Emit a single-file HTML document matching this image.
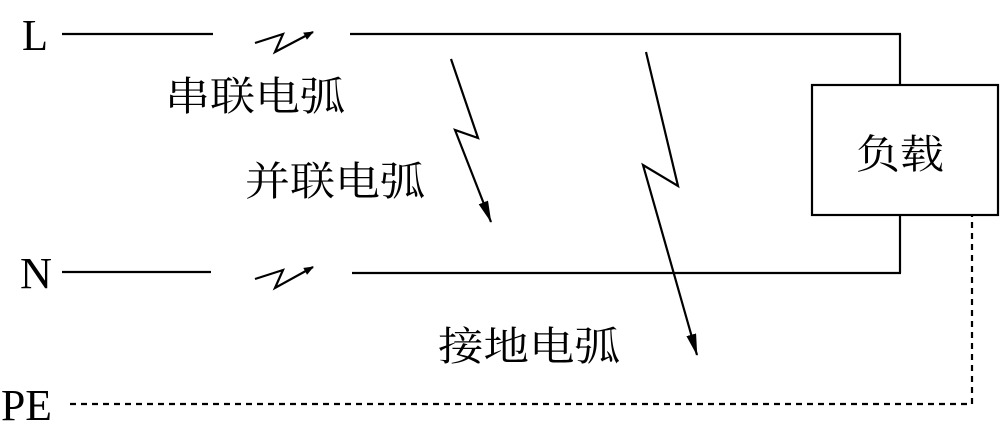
<!DOCTYPE html>
<html><head><meta charset="utf-8"><style>body{margin:0;background:#fff}svg{display:block}</style></head>
<body>
<svg width="1000" height="431" viewBox="0 0 1000 431" xmlns="http://www.w3.org/2000/svg">
<defs><marker id="a" markerWidth="10" markerHeight="8" refX="9" refY="4" orient="auto" markerUnits="userSpaceOnUse" viewBox="0 0 10 8"><path d="M0,0L10,4L0,8z" fill="#000"/></marker>
<marker id="b" markerWidth="22" markerHeight="10" refX="21" refY="5" orient="auto" markerUnits="userSpaceOnUse" viewBox="0 0 22 10"><path d="M0,0L22,5L0,10z" fill="#000"/></marker></defs>
<g stroke="#000" stroke-width="2.2" fill="none">
<line x1="62" y1="34" x2="213" y2="34"/>
<line x1="350" y1="34" x2="901" y2="34"/>
<line x1="900" y1="34" x2="900" y2="85"/>
<rect x="812" y="85" width="186" height="130"/>
<line x1="900" y1="215" x2="900" y2="273"/>
<line x1="62" y1="272" x2="211" y2="272"/>
<line x1="352" y1="273" x2="901" y2="273"/>
<path d="M70 404H972V216" stroke-dasharray="6,5"/>
<path d="M255 43L283 34L275 52L313 32" marker-end="url(#a)"/>
<path d="M255 279L283 270L275 288L313 267" marker-end="url(#a)"/>
<path d="M451 59L478 138L455 130L491 222" marker-end="url(#b)"/>
<path d="M646 52L678 186L643 165L697 355" marker-end="url(#b)"/>
</g>
<g font-family="Liberation Serif, serif" font-size="44" fill="#000">
<text x="22" y="50" textLength="26" lengthAdjust="spacingAndGlyphs">L</text>
<text x="20" y="288" textLength="32" lengthAdjust="spacingAndGlyphs">N</text>
<text x="1" y="420" textLength="51" lengthAdjust="spacingAndGlyphs">PE</text>
</g>
<g font-family="Liberation Serif, 'Noto Serif CJK SC', serif" font-size="40" fill="#000">
<text x="165" y="110" textLength="180" lengthAdjust="spacingAndGlyphs">串联电弧</text>
<text x="245" y="195" textLength="180" lengthAdjust="spacingAndGlyphs">并联电弧</text>
<text x="438" y="360" textLength="182" lengthAdjust="spacingAndGlyphs">接地电弧</text>
<text x="856" y="168" textLength="88" lengthAdjust="spacingAndGlyphs">负载</text>
</g>
</svg>
</body></html>
